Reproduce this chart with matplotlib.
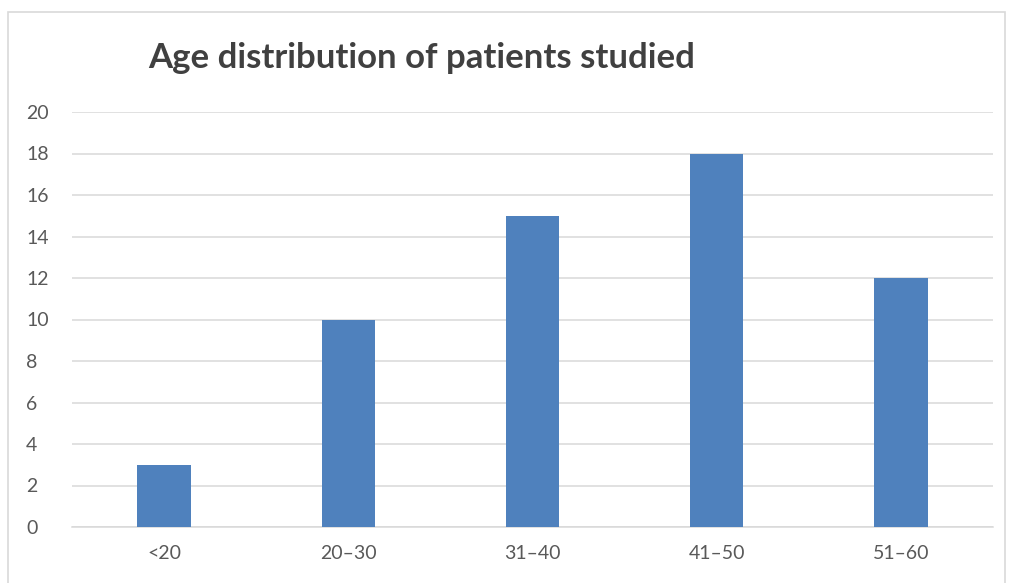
import matplotlib
matplotlib.use("Agg")
import matplotlib.pyplot as plt
from matplotlib.patches import Rectangle

categories = ["<20", "20\u201330", "31\u201340", "41\u201350", "51\u201360"]
patients = [3, 10, 15, 18, 12]
yticks = [0, 2, 4, 6, 8, 10, 12, 14, 16, 18, 20]

plt.rcParams['font.family'] = ['Lato', 'DejaVu Sans']

W, H = 1009, 583
fig = plt.figure(figsize=(W / 100, H / 100), dpi=100)

# chart border
fig.patches.append(Rectangle((8 / W, -0.01), 997 / W, 1 - 12 / H + 0.01,
                             transform=fig.transFigure, fill=False,
                             edgecolor='#d9d9d9', linewidth=1.2))

ax = fig.add_axes([72 / W, 1 - 527 / H, (993 - 72) / W, (527 - 112) / H])
x = range(len(categories))
ax.bar(x, patients, width=0.29, color='#4f81bd', zorder=3)
ax.set_xlim(-0.5, len(categories) - 0.5)
ax.set_ylim(0, 20)
ax.set_yticks(yticks)
ax.set_xticks(list(x))
ax.set_xticklabels(categories)
ax.grid(axis='y', color='#d9d9d9', linewidth=1.1, zorder=0)
for s in ['top', 'right', 'left']:
    ax.spines[s].set_visible(False)
ax.spines['bottom'].set_color('#d9d9d9')
ax.spines['bottom'].set_linewidth(1.1)
ax.tick_params(length=0, colors='#595959', labelsize=14)
ax.tick_params(axis='x', pad=13)
ax.tick_params(axis='y', pad=33)
for lab in ax.get_yticklabels():
    lab.set_horizontalalignment('left')

fig.text(148 / W, 1 - 58 / H, "Age distribution of patients studied",
         fontsize=25, fontweight='bold', color='#404040', ha='left', va='center')

plt.savefig("out.png", dpi=100)
plt.close()
